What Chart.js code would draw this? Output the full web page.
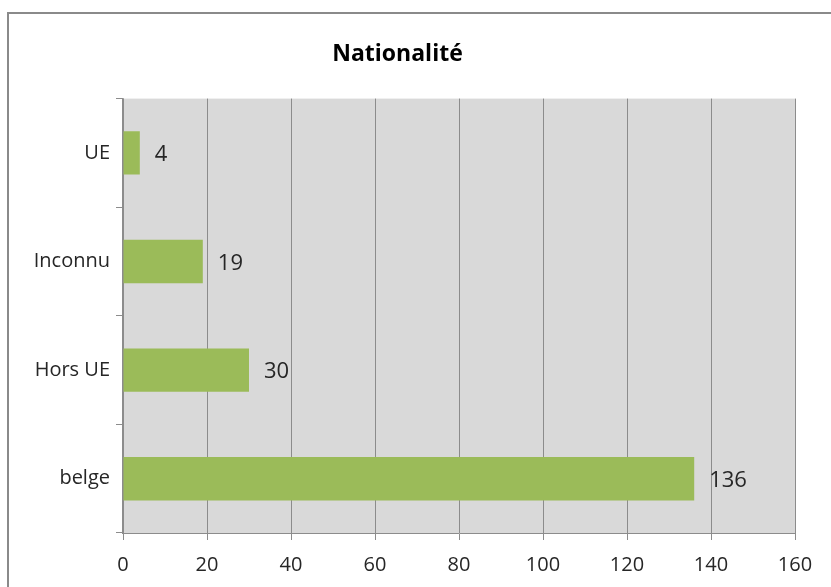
<!DOCTYPE html>
<html>
<head>
<meta charset="utf-8">
<script src="https://cdn.jsdelivr.net/npm/chart.js@4.4.0/dist/chart.umd.min.js"></script>
<style>
  body { margin: 0; background: #fff; }
  canvas { display: block; }
</style>
</head>
<body>
<canvas id="myChart" width="831" height="587"></canvas>
<script>
  // ___________ data ___________ //
  const categories = ["UE", "Inconnu", "Hors UE", "belge"];
  const counts = [4, 19, 30, 136];
  const xTicks = [0, 20, 40, 60, 80, 100, 120, 140, 160];

  const FONT = "'Open Sans', 'DejaVu Sans', sans-serif";
  const GRID = "#8c8c8c";

  // plot background + outer frame
  const frame = {
    id: "frame",
    beforeDraw(chart) {
      const c = chart.ctx, a = chart.chartArea;
      c.save();
      c.fillStyle = "#ffffff";
      c.fillRect(0, 0, chart.width, chart.height);
      c.strokeStyle = "#8a8a8a";
      c.lineWidth = 2;
      c.strokeRect(8, 13, chart.width + 20, chart.height + 20);
      c.fillStyle = "#d9d9d9";
      c.fillRect(a.left, a.top, a.right - a.left, a.bottom - a.top);
      c.restore();
    },
  };

  // value labels at the end of each bar
  const barLabels = {
    id: "barLabels",
    afterDatasetsDraw(chart) {
      const c = chart.ctx;
      const meta = chart.getDatasetMeta(0);
      c.save();
      c.font = "22px " + FONT;
      c.fillStyle = "#262626";
      c.textAlign = "left";
      c.textBaseline = "middle";
      meta.data.forEach(function (bar, i) {
        c.fillText(String(counts[i]), bar.x + 15, bar.y + 2);
      });
      c.restore();
    },
  };

  const ctx = document.getElementById("myChart").getContext("2d");
  const myChart = new Chart(ctx, {
    type: "bar",
    data: {
      labels: categories,
      datasets: [
        {
          label: "Nationalité",
          data: counts,
          backgroundColor: "#9bbb59",
          borderWidth: 0,
          categoryPercentage: 1,
          barPercentage: 0.4,
        },
      ],
    },
    options: {
      indexAxis: "y",
      responsive: false,
      animation: false,
      layout: { padding: { left: 0, right: 36, top: 0, bottom: 0 } },
      plugins: {
        legend: { display: false },
        tooltip: { enabled: false },
        title: {
          display: true,
          text: "Nationalité",
          color: "#000000",
          font: { family: FONT, size: 23, weight: "bold" },
          padding: { top: 41, bottom: 30 },
        },
      },
      scales: {
        x: {
          min: 0,
          max: 160,
          afterBuildTicks(scale) {
            scale.ticks = xTicks.map((v) => ({ value: v }));
          },
          afterFit(scale) {
            scale.height = 54;
          },
          grid: { color: GRID, lineWidth: 1, tickLength: 7 },
          border: { color: GRID, width: 1 },
          ticks: {
            color: "#262626",
            padding: 13,
            font: { family: FONT, size: 20 },
          },
        },
        y: {
          afterFit(scale) {
            scale.width = 123;
          },
          grid: {
            offset: true,
            drawOnChartArea: false,
            color: GRID,
            tickLength: 7,
          },
          border: { color: GRID, width: 1.5 },
          ticks: {
            color: "#262626",
            padding: 6,
            font: { family: FONT, size: 20 },
          },
        },
      },
    },
    plugins: [frame, barLabels],
  });
</script>
</body>
</html>
